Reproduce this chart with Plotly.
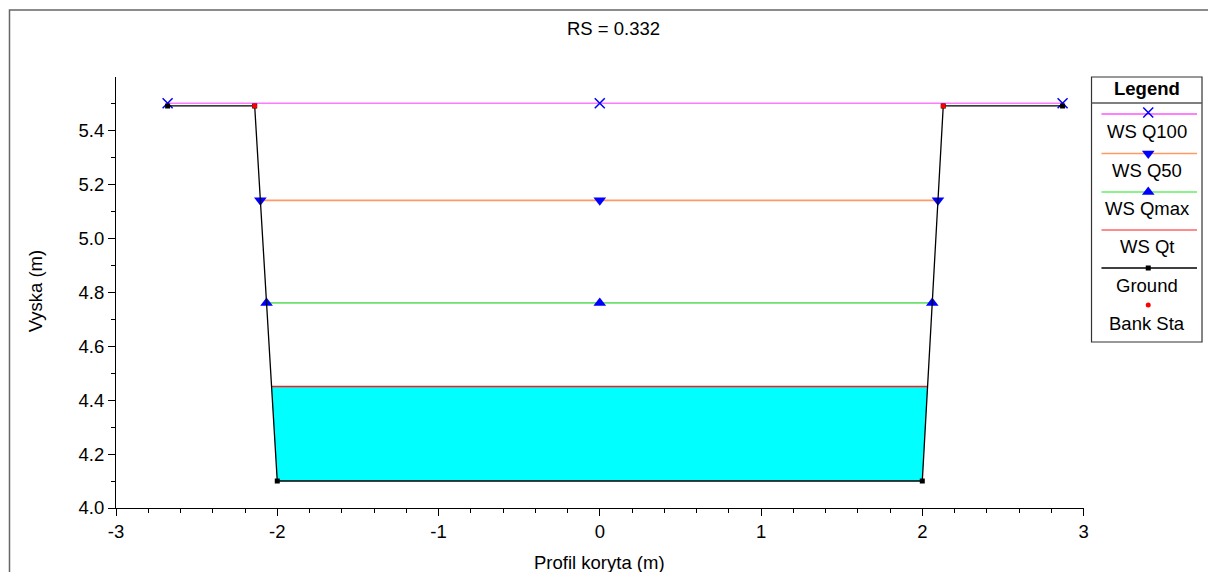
import numpy as np
import plotly.graph_objects as go

# ---------------- data ----------------
station = [-2.68, -2.14, -2.0, 2.0, 2.13, 2.87]
elevation = [5.49, 5.49, 4.10, 4.10, 5.49, 5.49]
bank_station = [-2.14, 2.13]
bank_elevation = [5.49, 5.49]
ws_names = ["WS Q100", "WS Q50", "WS Qmax", "WS Qt"]
ws_elevation = [5.50, 5.14, 4.76, 4.45]
x_tick_values = [-3, -2, -1, 0, 1, 2, 3]
x_tick_labels = ["-3", "-2", "-1", "0", "1", "2", "3"]
title_text = "RS = 0.332"
x_title = "Profil koryta (m)"
y_title = "Vyska (m)"

# ---------------- styles ----------------
FONT = "Arial, 'Liberation Sans', sans-serif"
FS = 18.5
ws_colors = ["#FF7AFF", "#FF9A66", "#6EE06E", "#FF1A1A"]
ws_leg_colors = ["#FF55FF", "#FF9A66", "#66EE66", "#FF6666"]
ws_symbols = ["x-thin-open", "triangle-down", "triangle-up", None]
BLUE = "#0000FF"

gx = np.array(station, dtype=float)
gy = np.array(elevation, dtype=float)


def ws_extent(level):
    i0 = int(np.argmin(gy))
    xl = gx[0]
    i = i0
    while i > 0:
        if gy[i - 1] >= level:
            t = (level - gy[i]) / (gy[i - 1] - gy[i])
            xl = gx[i] + t * (gx[i - 1] - gx[i])
            break
        i -= 1
    j0 = len(gy) - 1 - int(np.argmin(gy[::-1]))
    xr = gx[-1]
    j = j0
    while j < len(gy) - 1:
        if gy[j + 1] >= level:
            t = (level - gy[j]) / (gy[j + 1] - gy[j])
            xr = gx[j] + t * (gx[j + 1] - gx[j])
            break
        j += 1
    return xl, xr


fig = go.Figure()

# water fill below lowest WS (Qt)
qt = ws_elevation[-1]
xl, xr = ws_extent(qt)
inner = [(x, y) for x, y in zip(gx, gy) if y < qt and xl < x < xr]
poly_x = [xl] + [p[0] for p in inner] + [xr, xl]
poly_y = [qt] + [p[1] for p in inner] + [qt, qt]
fig.add_trace(go.Scatter(x=poly_x, y=poly_y, fill="toself", fillcolor="#00FFFF",
                         mode="lines", line=dict(width=0), showlegend=False,
                         hoverinfo="skip"))

for name, lev, col, sym in zip(ws_names, ws_elevation, ws_colors, ws_symbols):
    a, b = ws_extent(lev)
    fig.add_trace(go.Scatter(x=[a, b], y=[lev, lev], mode="lines",
                             line=dict(color=col, width=1.6), showlegend=False,
                             name=name))
    if sym:
        mk = dict(symbol=sym, size=11 if sym != "x-thin-open" else 10, color=BLUE,
                  line=dict(color=BLUE, width=1.5 if sym == "x-thin-open" else 0))
        fig.add_trace(go.Scatter(x=[a, 0, b], y=[lev, lev, lev], mode="markers",
                                 marker=mk, showlegend=False, name=name))

fig.add_trace(go.Scatter(x=station, y=elevation, mode="lines+markers",
                         line=dict(color="black", width=1.3),
                         marker=dict(symbol="square", size=5, color="black"),
                         showlegend=False, name="Ground"))
fig.add_trace(go.Scatter(x=bank_station, y=bank_elevation, mode="markers",
                         marker=dict(symbol="circle", size=5, color="#FF0000"),
                         showlegend=False, name="Bank Sta"))

# ---------------- custom legend (pixel coords on x2/y2) ----------------
LX0, LX1 = 1106, 1202
LXC = 1153
leg_items = [
    ("WS Q100", ws_leg_colors[0], "x-thin-open", 114, 131.5),
    ("WS Q50", ws_leg_colors[1], "triangle-down", 153.5, 170.5),
    ("WS Qmax", ws_leg_colors[2], "triangle-up", 192, 208.5),
    ("WS Qt", ws_leg_colors[3], None, 230, 246.5),
    ("Ground", "black", "square", 268, 285),
    ("Bank Sta", None, "circle", 305, 323),
]
annotations = []
for name, col, sym, ly, ty in leg_items:
    if col:
        fig.add_trace(go.Scatter(x=[LX0, LX1], y=[ly, ly], mode="lines",
                                 line=dict(color=col, width=1.3 if col == "black" else 1.6),
                                 xaxis="x2", yaxis="y2", showlegend=False, hoverinfo="skip"))
    if sym:
        if sym == "square":
            mk = dict(symbol="square", size=5, color="black")
        elif sym == "circle":
            mk = dict(symbol="circle", size=5, color="#FF0000")
        elif sym == "x-thin-open":
            mk = dict(symbol=sym, size=10, color=BLUE, line=dict(color=BLUE, width=1.5))
        else:
            mk = dict(symbol=sym, size=11, color=BLUE)
        fig.add_trace(go.Scatter(x=[LXC], y=[ly - (1.5 if sym == "x-thin-open" else 0)],
                                 mode="markers", marker=mk,
                                 xaxis="x2", yaxis="y2", showlegend=False, hoverinfo="skip"))
    annotations.append(dict(x=1152, y=ty, xref="x2", yref="y2", text=name,
                            showarrow=False, xanchor="center", yanchor="middle",
                            font=dict(family=FONT, size=FS, color="black")))

annotations.append(dict(x=1152, y=88.5, xref="x2", yref="y2", text="<b>Legend</b>",
                        showarrow=False, xanchor="center", yanchor="middle",
                        font=dict(family=FONT, size=FS, color="black")))

# titles
PL, PW, PH = 116, 1092, 508
annotations.append(dict(x=(616 - PL) / PW, y=(PH - 28) / PH, xref="paper", yref="paper",
                        text=title_text, showarrow=False, xanchor="center", yanchor="middle",
                        font=dict(family=FONT, size=FS, color="black")))
annotations.append(dict(x=(602 - PL) / PW, y=(PH - 562) / PH, xref="paper", yref="paper",
                        text=x_title, showarrow=False, xanchor="center", yanchor="middle",
                        font=dict(family=FONT, size=FS, color="black")))
annotations.append(dict(x=(35 - PL) / PW, y=(PH - 291) / PH, xref="paper", yref="paper",
                        text=y_title, showarrow=False, xanchor="center", yanchor="middle",
                        textangle=-90,
                        font=dict(family=FONT, size=FS, color="black")))

shapes = [
    dict(type="rect", xref="x2", yref="y2", x0=1096, x1=1207, y0=77, y1=342,
         line=dict(color="#333333", width=1.2)),
    dict(type="line", xref="x2", yref="y2", x0=1096, x1=1207, y0=103, y1=103,
         line=dict(color="#555555", width=1.6)),
    dict(type="rect", xref="paper", yref="paper",
         x0=(9 - PL) / PW, x1=1.05, y0=-0.3, y1=(PH - 10) / PH,
         line=dict(color="#666666", width=1.5)),
]

fig.update_layout(
    width=1208, height=572, autosize=False,
    margin=dict(l=PL, r=0, t=0, b=64, pad=0),
    paper_bgcolor="white", plot_bgcolor="white",
    showlegend=False,
    font=dict(family=FONT, size=FS, color="black"),
    annotations=annotations,
    shapes=shapes,
    xaxis=dict(domain=[0, 972 / PW], range=[-3, 3],
               tickmode="array", tickvals=x_tick_values, ticktext=x_tick_labels,
               showgrid=False, zeroline=False, showline=True, linecolor="black",
               linewidth=1, ticks="outside", ticklen=7, tickcolor="black",
               tickfont=dict(family=FONT, size=FS, color="black"),
               minor=dict(dtick=0.2, tick0=-3, ticks="outside", ticklen=4,
                          tickcolor="black")),
    yaxis=dict(domain=[0, (PH - 77) / PH], range=[4.0, 5.597], dtick=0.2, tick0=4.0,
               tickformat=".1f",
               showgrid=False, zeroline=False, showline=True, linecolor="black",
               linewidth=1, ticks="outside", ticklen=7, tickcolor="black",
               tickfont=dict(family=FONT, size=FS, color="black"),
               minor=dict(dtick=0.1, ticks="outside", ticklen=4, tickcolor="black")),
    xaxis2=dict(domain=[972 / PW, 1], range=[1088, 1208], visible=False,
                anchor="y2", fixedrange=True),
    yaxis2=dict(domain=[0, 1], range=[PH, 0], visible=False, anchor="x2",
                fixedrange=True),
)

fig.write_html("out.html", config={"displayModeBar": False})
